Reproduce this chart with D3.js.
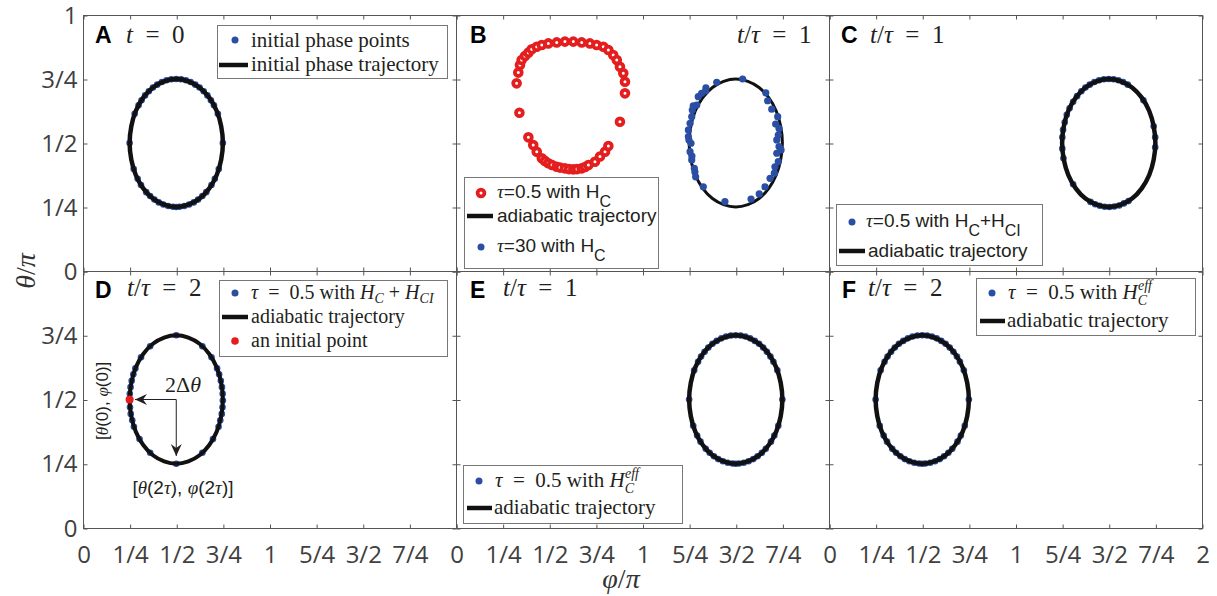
<!DOCTYPE html>
<html>
<head>
<meta charset="utf-8">
<script src="https://cdn.jsdelivr.net/npm/d3@7"></script>
<style>
  body { margin: 0; background: #fff; }
  svg { display: block; }
</style>
</head>
<body>
<div id="chart"></div>
<script>
// ---------- data (phi/pi, theta/pi) ----------
const xTickVals = [0, 0.25, 0.5, 0.75, 1, 1.25, 1.5, 1.75, 2];
const xTickLabels = ['0', '1/4', '1/2', '3/4', '1', '5/4', '3/2', '7/4', '2'];
const yTickVals = [0, 0.25, 0.5, 0.75, 1];
const yTickLabels = ['0', '1/4', '1/2', '3/4', '1'];

// adiabatic trajectories
const trajLeft = [[0.5,0.75],[0.565,0.741],[0.625,0.717],[0.677,0.677],[0.717,0.625],[0.741,0.565],[0.75,0.5],[0.741,0.435],[0.717,0.375],[0.677,0.323],[0.625,0.283],[0.565,0.259],[0.5,0.25],[0.435,0.259],[0.375,0.283],[0.323,0.323],[0.283,0.375],[0.259,0.435],[0.25,0.5],[0.259,0.565],[0.283,0.625],[0.323,0.677],[0.375,0.717],[0.435,0.741]];
const trajRight = [[1.5,0.75],[1.565,0.741],[1.625,0.717],[1.677,0.677],[1.717,0.625],[1.741,0.565],[1.75,0.5],[1.741,0.435],[1.717,0.375],[1.677,0.323],[1.625,0.283],[1.565,0.259],[1.5,0.25],[1.435,0.259],[1.375,0.283],[1.323,0.323],[1.283,0.375],[1.259,0.435],[1.25,0.5],[1.259,0.565],[1.283,0.625],[1.323,0.677],[1.375,0.717],[1.435,0.741]];

// A: initial phase points
const dotsA = [[0.5,0.75],[0.474,0.749],[0.526,0.749],[0.448,0.745],[0.552,0.745],[0.423,0.738],[0.577,0.738],[0.398,0.728],[0.602,0.728],[0.375,0.717],[0.625,0.717],[0.353,0.702],[0.647,0.702],[0.333,0.686],[0.667,0.686],[0.314,0.667],[0.686,0.667],[0.298,0.647],[0.702,0.647],[0.277,0.614],[0.723,0.614],[0.25,0.5],[0.75,0.5],[0.272,0.398],[0.728,0.398],[0.293,0.36],[0.707,0.36],[0.311,0.336],[0.689,0.336],[0.339,0.308],[0.661,0.308],[0.36,0.293],[0.64,0.293],[0.383,0.279],[0.617,0.279],[0.406,0.268],[0.594,0.268],[0.431,0.26],[0.569,0.26],[0.457,0.254],[0.543,0.254],[0.483,0.251],[0.517,0.251],[0.5,0.25]];

// B: tau=0.5 with H_C (red rings) and tau=30 with H_C (blue)
const ringsB = [[0.325,0.733],[0.334,0.775],[0.343,0.805],[0.352,0.824],[0.37,0.84],[0.388,0.853],[0.406,0.866],[0.433,0.876],[0.46,0.883],[0.495,0.889],[0.54,0.893],[0.584,0.896],[0.629,0.896],[0.674,0.893],[0.718,0.889],[0.754,0.883],[0.79,0.876],[0.817,0.863],[0.843,0.844],[0.862,0.824],[0.879,0.798],[0.897,0.772],[0.906,0.739],[0.906,0.694],[0.34,0.618],[0.879,0.583],[0.388,0.522],[0.414,0.492],[0.433,0.466],[0.46,0.44],[0.477,0.43],[0.495,0.421],[0.515,0.414],[0.54,0.407],[0.558,0.404],[0.584,0.401],[0.606,0.398],[0.629,0.397],[0.649,0.398],[0.674,0.401],[0.692,0.406],[0.71,0.414],[0.745,0.427],[0.772,0.447],[0.799,0.466],[0.817,0.488]];
const dotsB = [[1.398,0.737],[1.537,0.75],[1.661,0.696],[1.671,0.665],[1.693,0.632],[1.725,0.603],[1.714,0.574],[1.732,0.557],[1.728,0.531],[1.72,0.512],[1.732,0.486],[1.743,0.473],[1.72,0.46],[1.728,0.427],[1.71,0.407],[1.707,0.382],[1.684,0.362],[1.657,0.329],[1.626,0.301],[1.582,0.281],[1.442,0.271],[1.326,0.329],[1.285,0.368],[1.281,0.387],[1.278,0.401],[1.264,0.434],[1.265,0.449],[1.255,0.466],[1.26,0.499],[1.249,0.512],[1.246,0.525],[1.246,0.551],[1.255,0.577],[1.264,0.603],[1.267,0.629],[1.272,0.645],[1.291,0.648],[1.299,0.681],[1.317,0.694],[1.339,0.704],[1.34,0.715]];

// C: tau=0.5 with H_C+H_CI
const dotsC = [[1.255,0.552],[1.264,0.581],[1.275,0.61],[1.29,0.636],[1.309,0.661],[1.33,0.683],[1.353,0.702],[1.375,0.717],[1.398,0.728],[1.423,0.738],[1.448,0.745],[1.474,0.749],[1.5,0.75],[1.526,0.749],[1.552,0.745],[1.577,0.738],[1.602,0.728],[1.686,0.667],[1.741,0.565],[1.749,0.522],[1.749,0.483],[1.251,0.522],[1.251,0.478],[1.257,0.44],[1.309,0.339],[1.606,0.273],[1.581,0.264],[1.556,0.256],[1.53,0.252],[1.504,0.25],[1.478,0.251],[1.452,0.255],[1.427,0.261],[1.402,0.27]];

// D: tau=0.5 with H_C+H_CI, t/tau=2
const dotsD = [[0.5,0.75],[0.36,0.707],[0.64,0.707],[0.311,0.664],[0.689,0.664],[0.281,0.621],[0.719,0.621],[0.27,0.598],[0.73,0.598],[0.261,0.573],[0.739,0.573],[0.255,0.548],[0.745,0.548],[0.251,0.522],[0.749,0.522],[0.25,0.496],[0.75,0.496],[0.252,0.47],[0.748,0.47],[0.256,0.444],[0.744,0.444],[0.264,0.419],[0.736,0.419],[0.273,0.394],[0.727,0.394],[0.303,0.346],[0.697,0.346],[0.36,0.293],[0.64,0.293],[0.5,0.25]];
const initialPointD = [[0.25,0.5]];
const arrowsD = [[[0.5,0.5],[0.279,0.5]], [[0.5,0.5],[0.5,0.28]]];

// E: tau=0.5 with H_C^eff, t/tau=1
const dotsE = [[1.5,0.75],[1.474,0.749],[1.526,0.749],[1.448,0.745],[1.552,0.745],[1.423,0.738],[1.577,0.738],[1.398,0.728],[1.602,0.728],[1.375,0.717],[1.625,0.717],[1.353,0.702],[1.647,0.702],[1.333,0.686],[1.667,0.686],[1.314,0.667],[1.686,0.667],[1.298,0.647],[1.702,0.647],[1.277,0.614],[1.723,0.614],[1.25,0.5],[1.75,0.5],[1.272,0.398],[1.728,0.398],[1.293,0.36],[1.707,0.36],[1.311,0.336],[1.689,0.336],[1.339,0.308],[1.661,0.308],[1.36,0.293],[1.64,0.293],[1.383,0.279],[1.617,0.279],[1.406,0.268],[1.594,0.268],[1.431,0.26],[1.569,0.26],[1.457,0.254],[1.543,0.254],[1.483,0.251],[1.517,0.251],[1.5,0.25]];

// F: back at the initial positions after t/tau=2
const dotsF = dotsA;

// ---------- layout ----------
const W = 1217, H = 596;
const colX = [83, 456, 829];
const rowY = [15, 271];
const PW = 373, PH = [256, 257];

const SERIF = '"Liberation Serif", "Times New Roman", serif';
const SANS = '"Liberation Sans", Arial, sans-serif';
const TICKFONT = '"Open Sans", sans-serif';
const BLUE = '#2a4ea3', RED = '#e41e1e', INK = '#231f20', AXIS = '#555';

const svg = d3.select('#chart').append('svg')
    .attr('width', W)
    .attr('height', H)
    .style('background', '#fff');

// marker for the annotation arrows
svg.append('defs').append('marker')
    .attr('id', 'arrow')
    .attr('viewBox', '-12 -6 14 12')
    .attr('refX', 0).attr('refY', 0)
    .attr('markerWidth', 14).attr('markerHeight', 12)
    .attr('markerUnits', 'userSpaceOnUse')
    .attr('orient', 'auto')
    .append('path')
    .attr('d', 'M0,0 L-12,-5.5 L-8,0 L-12,5.5 Z')
    .attr('fill', INK);

// text built from pieces (italic, sub/superscripts)
function rich(parent, x, y, parts, family, size, color) {
    const t = parent.append('text')
        .attr('x', x).attr('y', y)
        .style('font-family', family)
        .style('font-size', size + 'px')
        .attr('fill', color || INK);
    let shift = 0;
    parts.forEach(p => {
        const s = t.append('tspan').text(p.t);
        const target = p.dy || 0;
        if (target !== shift) { s.attr('dy', target - shift); shift = target; }
        if (p.dx) s.attr('dx', p.dx);
        if (p.it) s.style('font-style', 'italic');
        if (p.fam) s.style('font-family', p.fam);
        if (p.size) s.style('font-size', p.size + 'px');
        if (p.bold) s.style('font-weight', 'bold');
    });
    return t;
}

const tauOverT = n => [{t: 't', it: true}, {t: '/'}, {t: 'τ', it: true}, {t: '\u2002=\u2002' + n}];

const panels = [
    {
        id: 'A', col: 0, row: 0, traj: trajLeft, lw: 4.5, dots: dotsA,
        letter: [95, 43], expr: [126, 43], exprParts: [{t: 't', it: true}, {t: '\u2002=\u20020'}],
        legend: {
            box: [217, 25, 230, 53], font: SERIF, size: 21,
            items: [
                {kind: 'dot', x: 235, y: 40, tx: 251, ty: 47, parts: [{t: 'initial phase points'}]},
                {kind: 'line', x1: 219, x2: 248, y: 65, tx: 251, ty: 71, parts: [{t: 'initial phase trajectory'}]}
            ]
        }
    },
    {
        id: 'B', col: 1, row: 0, traj: trajRight, lw: 3, dots: dotsB, dotsOnTop: true, rings: ringsB, dotR: 3.6,
        letter: [470, 43], expr: [737, 43], exprParts: tauOverT('1'),
        legend: {
            box: [464, 177, 194, 91], font: SANS, size: 19,
            items: [
                {kind: 'ring', x: 481, y: 193, tx: 497, ty: 198,
                 parts: [{t: 'τ', it: true, fam: SERIF}, {t: '=0.5 with H'}, {t: 'C', dy: 9, size: 16}]},
                {kind: 'line', x1: 467, x2: 493, y: 216, tx: 497, ty: 222, parts: [{t: 'adiabatic trajectory'}]},
                {kind: 'dot', x: 481, y: 247, tx: 497, ty: 252,
                 parts: [{t: 'τ', it: true, fam: SERIF}, {t: '=30 with H'}, {t: 'C', dy: 9, size: 16}]}
            ]
        }
    },
    {
        id: 'C', col: 2, row: 0, traj: trajRight, lw: 4.5, dots: dotsC,
        letter: [841, 43], expr: [870, 43], exprParts: tauOverT('1'),
        legend: {
            box: [836, 204, 206, 61], font: SANS, size: 19,
            items: [
                {kind: 'dot', x: 852, y: 222, tx: 866, ty: 227,
                 parts: [{t: 'τ', it: true, fam: SERIF}, {t: '=0.5 with H'}, {t: 'C', dy: 9, size: 16},
                         {t: '+H'}, {t: 'CI', dy: 9, size: 16}]},
                {kind: 'line', x1: 839, x2: 865, y: 251, tx: 868, ty: 257, parts: [{t: 'adiabatic trajectory'}]}
            ]
        }
    },
    {
        id: 'D', col: 0, row: 1, traj: trajLeft, lw: 4, dots: dotsD, red: initialPointD,
        letter: [95, 298], expr: [127, 296], exprParts: tauOverT('2'),
        legend: {
            box: [219, 280, 228, 76], font: SERIF, size: 20,
            items: [
                {kind: 'dot', x: 235, y: 293, tx: 251, ty: 299,
                 parts: [{t: 'τ', it: true}, {t: '\u2002=\u20020.5 with '}, {t: 'H', it: true},
                         {t: 'C', it: true, dy: 4, size: 14}, {t: ' + '}, {t: 'H', it: true},
                         {t: 'CI', it: true, dy: 4, size: 14}]},
                {kind: 'line', x1: 222, x2: 248, y: 317, tx: 251, ty: 323, parts: [{t: 'adiabatic trajectory'}]},
                {kind: 'red', x: 235, y: 341, tx: 251, ty: 347, parts: [{t: 'an initial point'}]}
            ]
        }
    },
    {
        id: 'E', col: 1, row: 1, traj: trajRight, lw: 4.5, dots: dotsE,
        letter: [470, 298], expr: [503, 296], exprParts: tauOverT('1'),
        legend: {
            box: [463, 465, 219, 58], font: SERIF, size: 21,
            items: [
                {kind: 'dot', x: 479, y: 481, tx: 495, ty: 487,
                 parts: [{t: 'τ', it: true}, {t: '\u2002=\u20020.5 with '}, {t: 'H', it: true},
                         {t: 'C', it: true, dy: 6, size: 14}, {t: 'eff', it: true, dy: -9, dx: -9, size: 14}]},
                {kind: 'line', x1: 467, x2: 492, y: 508, tx: 494, ty: 514, parts: [{t: 'adiabatic trajectory'}]}
            ]
        }
    },
    {
        id: 'F', col: 2, row: 1, traj: trajLeft, lw: 4.5, dots: dotsF,
        letter: [842, 298], expr: [868, 296], exprParts: tauOverT('2'),
        legend: {
            box: [976, 278, 219, 57], font: SERIF, size: 21,
            items: [
                {kind: 'dot', x: 992, y: 293, tx: 1008, ty: 299,
                 parts: [{t: 'τ', it: true}, {t: '\u2002=\u20020.5 with '}, {t: 'H', it: true},
                         {t: 'C', it: true, dy: 6, size: 14}, {t: 'eff', it: true, dy: -9, dx: -9, size: 14}]},
                {kind: 'line', x1: 980, x2: 1005, y: 321, tx: 1007, ty: 327, parts: [{t: 'adiabatic trajectory'}]}
            ]
        }
    }
];

function drawPanel(p) {
    const left = colX[p.col], top = rowY[p.row], ph = PH[p.row];
    const x = d3.scaleLinear().domain([0, 2]).range([left, left + PW]);
    const y = d3.scaleLinear().domain([0, 1]).range([top + ph, top]);
    const g = svg.append('g').attr('class', 'panel-' + p.id);

    // frame
    g.append('rect')
        .attr('x', left + 0.5).attr('y', top + 0.5)
        .attr('width', PW).attr('height', ph)
        .attr('fill', 'none').attr('stroke', AXIS).attr('stroke-width', 1);

    // ticks (inward on all sides) + labels on the outer panels
    const showX = (d, i) => (p.row === 1 && (i < 8 || p.col === 2)) ? xTickLabels[i] : '';
    const showY = (d, i) => (p.col === 0 && (p.row === 0 || i < 4)) ? yTickLabels[i] : '';
    const axes = [
        {ax: d3.axisBottom(x).tickValues(xTickVals).tickFormat(showX), t: `translate(0.5,${top + ph + 0.5})`},
        {ax: d3.axisTop(x).tickValues(xTickVals).tickFormat(''), t: `translate(0.5,${top + 0.5})`},
        {ax: d3.axisLeft(y).tickValues(yTickVals).tickFormat(showY), t: `translate(${left + 0.5},0.5)`},
        {ax: d3.axisRight(y).tickValues(yTickVals).tickFormat(''), t: `translate(${left + PW + 0.5},0.5)`}
    ];
    axes.forEach((a, k) => {
        const ag = g.append('g').attr('transform', a.t)
            .call(a.ax.tickSizeInner(-4).tickSizeOuter(0).tickPadding(k === 0 ? 17 : 6));
        ag.select('.domain').remove();
        ag.selectAll('line').attr('stroke', AXIS);
        ag.selectAll('text')
            .style('font-family', TICKFONT)
            .style('font-size', '24px')
            .attr('fill', '#404040');
    });

    const line = d3.line().x(d => x(d[0])).y(d => y(d[1])).curve(d3.curveCatmullRomClosed);

    const drawDots = () => {
        g.append('g').selectAll('circle').data(p.dots).join('circle')
            .attr('cx', d => x(d[0])).attr('cy', d => y(d[1]))
            .attr('r', p.dotR || 3.3).attr('fill', BLUE);
    };
    const drawTraj = () => {
        g.append('path').datum(p.traj)
            .attr('d', line)
            .attr('fill', 'none').attr('stroke', '#111').attr('stroke-width', p.lw);
    };

    if (p.dotsOnTop) { drawTraj(); drawDots(); } else { drawDots(); drawTraj(); }

    if (p.rings) {
        g.append('g').selectAll('circle').data(p.rings).join('circle')
            .attr('cx', d => x(d[0])).attr('cy', d => y(d[1]))
            .attr('r', 3.4).attr('fill', '#fff')
            .attr('stroke', RED).attr('stroke-width', 3.8);
    }

    if (p.red) {
        g.append('g').selectAll('circle').data(p.red).join('circle')
            .attr('cx', d => x(d[0])).attr('cy', d => y(d[1]))
            .attr('r', 4).attr('fill', RED);

        // annotation arrows and labels
        arrowsD.forEach(seg => {
            g.append('path')
                .attr('d', d3.line().x(d => x(d[0])).y(d => y(d[1]))(seg))
                .attr('stroke', INK).attr('stroke-width', 1).attr('fill', 'none')
                .attr('marker-end', 'url(#arrow)');
        });
        rich(g, x(0.44), y(0.53), [{t: '2Δ'}, {t: 'θ', it: true}], SERIF, 22);
        rich(g, x(0.536), y(0.132),
            [{t: '['}, {t: 'θ', it: true, fam: SERIF}, {t: '(2'}, {t: 'τ', it: true, fam: SERIF},
             {t: '), '}, {t: 'φ', it: true, fam: SERIF}, {t: '(2'}, {t: 'τ', it: true, fam: SERIF}, {t: ')]'}],
            SANS, 19).attr('text-anchor', 'middle');
        rich(g, 0, 0,
            [{t: '['}, {t: 'θ', it: true, fam: SERIF}, {t: '(0), '}, {t: 'φ', it: true, fam: SERIF}, {t: '(0)]'}],
            SANS, 17)
            .attr('text-anchor', 'middle')
            .attr('transform', `translate(${x(0.135)},${y(0.495)}) rotate(-90)`);
    }

    // panel letter and time label
    g.append('text')
        .attr('x', p.letter[0]).attr('y', p.letter[1])
        .style('font-family', SANS).style('font-weight', 'bold').style('font-size', '23px')
        .attr('fill', '#000').text(p.id);
    rich(g, p.expr[0], p.expr[1], p.exprParts, SERIF, 25);

    // legend
    const L = p.legend;
    const lg = g.append('g');
    lg.append('rect')
        .attr('x', L.box[0] + 0.5).attr('y', L.box[1] + 0.5)
        .attr('width', L.box[2]).attr('height', L.box[3])
        .attr('fill', '#fff').attr('stroke', '#777').attr('stroke-width', 1);
    L.items.forEach(it => {
        if (it.kind === 'dot') {
            lg.append('circle').attr('cx', it.x).attr('cy', it.y).attr('r', 3.5).attr('fill', BLUE);
        } else if (it.kind === 'red') {
            lg.append('circle').attr('cx', it.x).attr('cy', it.y).attr('r', 3.8).attr('fill', RED);
        } else if (it.kind === 'ring') {
            lg.append('circle').attr('cx', it.x).attr('cy', it.y).attr('r', 3.4)
                .attr('fill', '#fff').attr('stroke', RED).attr('stroke-width', 3.8);
        } else if (it.kind === 'line') {
            lg.append('line').attr('x1', it.x1).attr('x2', it.x2).attr('y1', it.y).attr('y2', it.y)
                .attr('stroke', '#111').attr('stroke-width', 4.5);
        }
        rich(lg, it.tx, it.ty, it.parts, L.font, L.size);
    });
}

panels.forEach(drawPanel);

// axis titles
rich(svg, 0, 0, [{t: 'θ', it: true}, {t: '/'}, {t: 'π', it: true}], SERIF, 28, '#333')
    .attr('text-anchor', 'middle')
    .attr('transform', 'translate(35,271) rotate(-90)');
rich(svg, 621, 588, [{t: 'φ', it: true}, {t: '/'}, {t: 'π', it: true}], SERIF, 28, '#333')
    .attr('text-anchor', 'middle');
</script>
</body>
</html>
